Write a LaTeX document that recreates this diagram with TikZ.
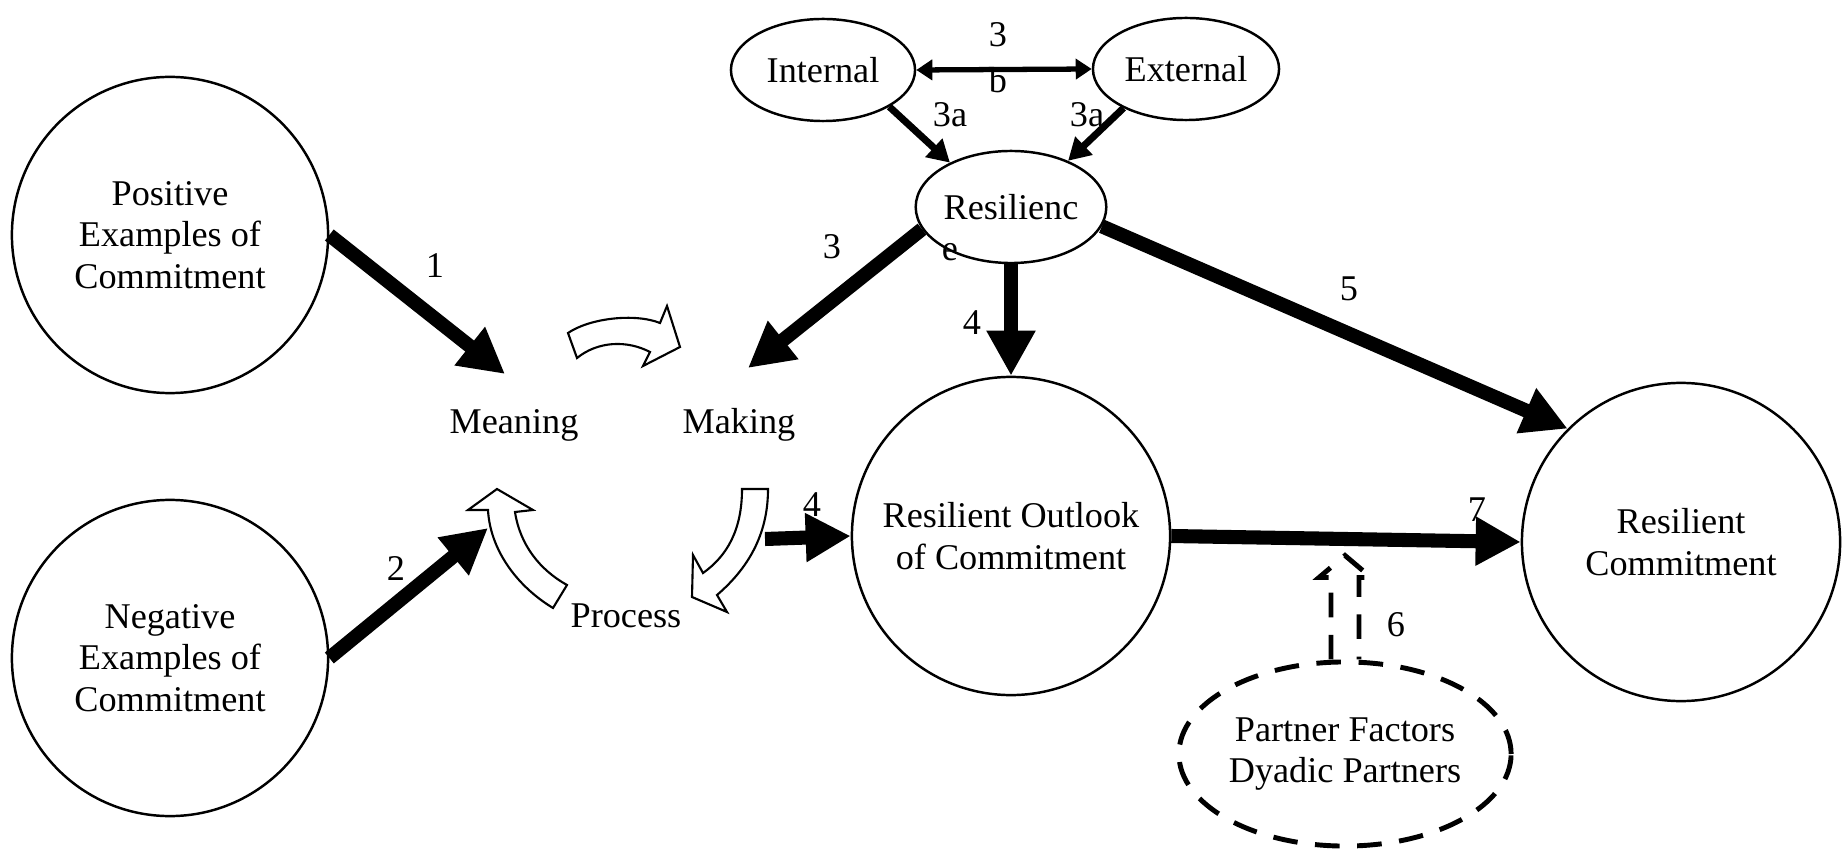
\documentclass[tikz,border=0pt]{standalone}
\usepackage{fontspec}
\setmainfont{Liberation Serif}
\usetikzlibrary{arrows.meta,shapes.geometric}
\begin{document}
\begin{tikzpicture}[x=0.01cm,y=-0.01cm,
  font=\fontsize{10.3}{11.8}\selectfont,
  bigcirc/.style={circle, draw=black, line width=0.7pt, minimum size=3.16cm, inner sep=0pt, align=center},
  smallell/.style={ellipse, draw=black, line width=0.7pt, minimum width=1.84cm, minimum height=1.02cm, inner sep=0pt},
  partnerline/.style={line width=1.4pt, dash pattern=on 7pt off 5pt},
  heavy/.style={line width=4pt, -{Triangle[length=4.5mm,width=4.6mm]}},
  medium/.style={line width=2pt, -{Triangle[length=2.2mm,width=2.4mm]}},
  hollow/.style={draw=black, fill=white, line width=0.6pt, line join=miter}]
\useasboundingbox (0,0) rectangle (1843,855);
\node [bigcirc] (pos) at (170,235) {Positive\\Examples of\\Commitment};
\node [bigcirc] (neg) at (170,658) {Negative\\Examples of\\Commitment};
\node [bigcirc, minimum size=3.18cm] (out) at (1011,536) {Resilient Outlook\\of Commitment};
\node [bigcirc, minimum size=3.18cm] (rc) at (1681,542) {Resilient\\Commitment};
\node [smallell] (int) at (823,70) {Internal};
\node [smallell, minimum width=1.86cm] (ext) at (1186,69) {External};
\node [smallell, minimum height=1.12cm] (res) at (1011,207) {Resilienc};
\node [ellipse, draw=black, partnerline, minimum width=3.32cm, minimum height=1.84cm, inner sep=0pt, align=center] (par) at (1345,754) {Partner Factors\\Dyadic Partners};
\node [anchor=base] (meaning) at (514,433) {Meaning};
\node [anchor=base] (making) at (739,433) {Making};
\node [anchor=base] (process) at (626,627) {Process};
\coordinate (m1) at (505,374);
\coordinate (m2) at (488,528);
\coordinate (m3) at (748,368);
\coordinate (p4) at (765,539);
\draw [heavy] (pos.east) -- (m1);
\draw [heavy] (neg.east) -- (m2);
\draw [heavy] (res.194) -- (m3);
\draw [heavy] (res.south) -- (out.north);
\draw [heavy] (res.-12) -- (rc.135);
\draw [heavy] (p4) -- (out.west);
\draw [heavy] (out.east) -- (rc.west);
\draw [medium] (int.-29) -- (res.144);
\draw [medium] (ext.212) -- (res.39);
\draw [line width=1.5pt, {Triangle[length=1.6mm,width=2mm]}-{Triangle[length=1.6mm,width=2mm]}] (int.east) -- (ext.west);
\draw [partnerline] ([xshift=-0.14cm]par.north) -- ++(0,-82) -- ++(-12,0) -- ++(26,-22) -- ++(26,22) -- ++(-12,0) -- ++(0,82);
\filldraw [hollow] (568,333) .. controls (590,318) and (635,313) .. (660,323) -- (667,306) -- (680,347) -- (643,366) -- (650,352) .. controls (627,340) and (598,341) .. (577,358) -- cycle;
\filldraw [hollow] (742,489) .. controls (742,530) and (727,556) .. (703,573) -- (693,555) -- (692,597) -- (727,612) -- (717,595) .. controls (752,565) and (768,530) .. (768,489) -- cycle;
\filldraw [hollow] (553,608) .. controls (515,585) and (490,548) .. (488,510) -- (468,510) -- (497,489) -- (533,510) -- (515,512) .. controls (520,545) and (540,570) .. (567,585) -- cycle;
\node (n1) at (435,266) {1};
\node (n2) at (396,569) {2};
\node (n3b) at (998,35) {3};
\node (nb) at (998,80) {b};
\node (n3al) at (950,115) {3a};
\node (n3ar) at (1087,115) {3a};
\node (n3c) at (832,247) {3};
\node (ne) at (950,252) {e};
\node (n4a) at (972,323) {4};
\node (n5) at (1349,289) {5};
\node (n4b) at (812,505) {4};
\node (n7) at (1477,510) {7};
\node (n6) at (1396,625) {6};
\end{tikzpicture}
\end{document}
